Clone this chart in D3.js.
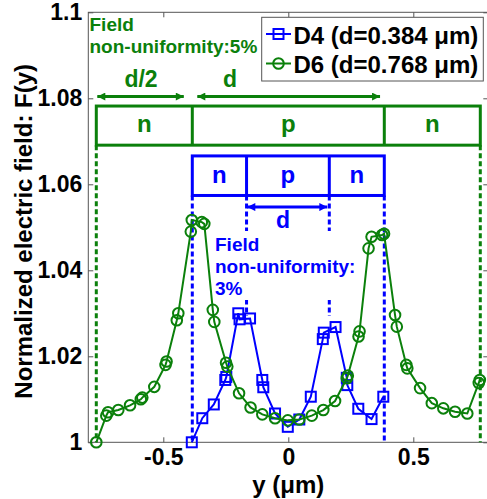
<!DOCTYPE html>
<html><head><meta charset="utf-8">
<script src="https://cdn.jsdelivr.net/npm/d3@7"></script>
<style>
body{margin:0;background:#fff}
svg{display:block}
text{font-family:"Liberation Sans",Arial,Helvetica,sans-serif;font-weight:bold}
</style>
</head><body><div id="c"></div>
<script>
// ---- data ----
const d4X=[-0.386,-0.344,-0.298,-0.252,-0.248,-0.200,-0.195,-0.153,-0.104,-0.100,-0.053,-0.002,0.044,0.090,0.138,0.142,0.189,0.234,0.236,0.280,0.333,0.380];
const d4Y=[1.0000,1.0056,1.0088,1.0145,1.0152,1.0300,1.0286,1.0288,1.0145,1.0128,1.0067,1.0036,1.0053,1.0106,1.0240,1.0255,1.0268,1.0150,1.0133,1.0078,1.0054,1.0106];
const d6X=[-0.768,-0.728,-0.721,-0.680,-0.633,-0.590,-0.584,-0.536,-0.491,-0.487,-0.446,-0.440,-0.390,-0.386,-0.346,-0.336,-0.302,-0.296,-0.249,-0.244,-0.197,-0.151,-0.104,-0.053,-0.002,0.044,0.094,0.140,0.187,0.234,0.238,0.281,0.285,0.321,0.333,0.375,0.383,0.427,0.434,0.472,0.476,0.527,0.574,0.620,0.667,0.716,0.762,0.766];
const d6Y=[1.0000,1.0062,1.0070,1.0075,1.0086,1.0100,1.0104,1.0129,1.0180,1.0188,1.0284,1.0300,1.0490,1.0517,1.0512,1.0508,1.0308,1.0280,1.0185,1.0176,1.0114,1.0081,1.0065,1.0056,1.0051,1.0053,1.0062,1.0075,1.0096,1.0149,1.0155,1.0246,1.0258,1.0451,1.0478,1.0482,1.0485,1.0296,1.0269,1.0180,1.0172,1.0126,1.0091,1.0079,1.0071,1.0067,1.0138,1.0145];
const seriesNames=["D4 (d=0.384 \u03bcm)","D6 (d=0.768 \u03bcm)"];
const xTicks=[-0.5,0,0.5];
const xTickLabels=["-0.5","0","0.5"];
const yTicks=[1,1.02,1.04,1.06,1.08,1.1];
const yTickLabels=["1","1.02","1.04","1.06","1.08","1.1"];
const xLabel="y (\u03bcm)";
const yLabel="Normalized electric field: F(y)";
// device structure sketches (data coordinates)
const d6Bounds=[-0.768,-0.384,0.384,0.768];
const d6Regions=["n","p","n"];
const d4Bounds=[-0.384,-0.167,0.164,0.384];
const d4Regions=["n","p","n"];
const d6Note=["Field","non-uniformity:5%"];
const d4Note=["Field","non-uniformity:","3%"];

// ---- layout ----
const W=487,H=499;
const green="#0b800b", blue="#0000ff", axisCol="#555";
const x=d3.scaleLinear().domain([-0.8,0.8]).range([88.3,488.3]);
const y=d3.scaleLinear().domain([1,1.1]).range([442.3,12.3]);

const svg=d3.select("#c").append("svg").attr("width",W).attr("height",H);
svg.append("rect").attr("width",W).attr("height",H).attr("fill","#fff");

const defs=svg.append("defs");
function arrowMarker(id,col){
  defs.append("marker").attr("id",id).attr("viewBox","0 0 10 10")
    .attr("refX",10).attr("refY",5).attr("markerUnits","userSpaceOnUse")
    .attr("markerWidth",9).attr("markerHeight",8).attr("orient","auto-start-reverse")
    .append("path").attr("d","M0,0L10,5L0,10z").attr("fill",col);
}
arrowMarker("ag",green); arrowMarker("ab",blue);

// frame
svg.append("rect").attr("x",x(-0.8)).attr("y",y(1.1)).attr("width",x(0.8)-x(-0.8)).attr("height",y(1)-y(1.1))
  .attr("fill","none").attr("stroke",axisCol).attr("stroke-width",1);

// axes
const gx=svg.append("g").attr("transform",`translate(0,${y(1)})`)
  .call(d3.axisBottom(x).tickValues(xTicks).tickSize(-5).tickPadding(6).tickFormat((d,i)=>xTickLabels[i]));
const gy=svg.append("g").attr("transform",`translate(${x(-0.8)},0)`)
  .call(d3.axisLeft(y).tickValues(yTicks).tickSize(-5).tickPadding(6).tickFormat((d,i)=>yTickLabels[i]));
const gt=svg.append("g").attr("transform",`translate(0,${y(1.1)})`)
  .call(d3.axisTop(x).tickValues(xTicks).tickSize(-5).tickFormat(""));
const gr=svg.append("g").attr("transform",`translate(${x(0.8)},0)`)
  .call(d3.axisRight(y).tickValues(yTicks).tickSize(-5).tickFormat(""));
[gx,gy,gt,gr].forEach(g=>{
  g.select(".domain").remove();
  g.selectAll(".tick line").attr("stroke",axisCol);
  g.selectAll("text").attr("font-size",23).attr("fill","#000")
    .style("font-family",'"Liberation Sans",Arial,sans-serif').style("font-weight","bold");
});

// axis labels
svg.append("text").attr("x",x(0)).attr("y",493).attr("text-anchor","middle").attr("font-size",24).text(xLabel);
svg.append("text").attr("transform",`translate(32,${(y(1)+y(1.1))/2+4}) rotate(-90)`).attr("text-anchor","middle")
  .attr("font-size",24).text(yLabel);

// ---- structure: D6 (green) ----
const g6=svg.append("g");
const b6Top=1.0782,b6Bot=1.0691;
g6.append("rect").attr("x",x(d6Bounds[0])).attr("y",y(b6Top)).attr("width",x(d6Bounds[3])-x(d6Bounds[0]))
  .attr("height",y(b6Bot)-y(b6Top)).attr("fill","none").attr("stroke",green).attr("stroke-width",3);
[d6Bounds[1],d6Bounds[2]].forEach(v=>g6.append("line").attr("x1",x(v)).attr("x2",x(v)).attr("y1",y(b6Top)).attr("y2",y(b6Bot))
  .attr("stroke",green).attr("stroke-width",3));
d6Regions.forEach((t,i)=>g6.append("text").attr("x",x((d6Bounds[i]+d6Bounds[i+1])/2)).attr("y",y(1.0722))
  .attr("text-anchor","middle").attr("font-size",24).attr("fill",green).text(t));
[d6Bounds[0],d6Bounds[3]].forEach(v=>g6.append("line").attr("x1",x(v)).attr("x2",x(v)).attr("y1",y(b6Bot)).attr("y2",y(1))
  .attr("stroke",green).attr("stroke-width",3).attr("stroke-dasharray","5,3"));
// arrows
g6.append("line").attr("x1",x(-0.764)).attr("x2",x(-0.418)).attr("y1",y(1.0804)).attr("y2",y(1.0804))
  .attr("stroke",green).attr("stroke-width",3).attr("marker-start","url(#ag)").attr("marker-end","url(#ag)");
g6.append("line").attr("x1",x(-0.364)).attr("x2",x(0.367)).attr("y1",y(1.0804)).attr("y2",y(1.0804))
  .attr("stroke",green).attr("stroke-width",3).attr("marker-start","url(#ag)").attr("marker-end","url(#ag)");
g6.append("text").attr("x",x(-0.589)).attr("y",y(1.0826)).attr("text-anchor","middle").attr("font-size",23).attr("fill",green).text("d/2");
g6.append("text").attr("x",x(-0.233)).attr("y",y(1.0826)).attr("text-anchor","middle").attr("font-size",23).attr("fill",green).text("d");

// ---- structure: D4 (blue) ----
const g4=svg.append("g");
const b4Top=1.0666,b4Bot=1.0574;
[d4Bounds[0],d4Bounds[3]].forEach(v=>g4.append("line").attr("x1",x(v)).attr("x2",x(v)).attr("y1",y(b4Bot)).attr("y2",y(1))
  .attr("stroke",blue).attr("stroke-width",3).attr("stroke-dasharray","5,3"));
[d4Bounds[1],d4Bounds[2]].forEach(v=>g4.append("line").attr("x1",x(v)).attr("x2",x(v)).attr("y1",y(b4Bot)).attr("y2",y(1.0294))
  .attr("stroke",blue).attr("stroke-width",3).attr("stroke-dasharray","5,3"));
g4.append("rect").attr("x",x(d4Bounds[0])).attr("y",y(b4Top)).attr("width",x(d4Bounds[3])-x(d4Bounds[0]))
  .attr("height",y(b4Bot)-y(b4Top)).attr("fill","none").attr("stroke",blue).attr("stroke-width",3);
[d4Bounds[1],d4Bounds[2]].forEach(v=>g4.append("line").attr("x1",x(v)).attr("x2",x(v)).attr("y1",y(b4Top)).attr("y2",y(b4Bot))
  .attr("stroke",blue).attr("stroke-width",3));
d4Regions.forEach((t,i)=>g4.append("text").attr("x",x((d4Bounds[i]+d4Bounds[i+1])/2)).attr("y",y(1.0602))
  .attr("text-anchor","middle").attr("font-size",24).attr("fill",blue).text(t));
g4.append("line").attr("x1",x(-0.164)).attr("x2",x(0.156)).attr("y1",y(1.0547)).attr("y2",y(1.0547))
  .attr("stroke",blue).attr("stroke-width",3).attr("marker-start","url(#ab)").attr("marker-end","url(#ab)");
g4.append("text").attr("x",x(-0.021)).attr("y",y(1.0498)).attr("text-anchor","middle").attr("font-size",23).attr("fill",blue).text("d");

// blue note with white background
svg.append("rect").attr("x",213).attr("y",231).attr("width",149).attr("height",69).attr("fill","#fff");
d4Note.forEach((t,i)=>svg.append("text").attr("x",215).attr("y",250.7+i*22.2).attr("font-size",19).attr("fill",blue).text(t));
d6Note.forEach((t,i)=>svg.append("text").attr("x",89.5).attr("y",31+i*22).attr("font-size",19).attr("fill",green).text(t));

// ---- data series ----
const line=d3.line().x(d=>x(d[0])).y(d=>y(d[1]));
const d4=d4X.map((v,i)=>[v,d4Y[i]]);
const d6=d6X.map((v,i)=>[v,d6Y[i]]);
svg.append("path").datum(d4).attr("d",line).attr("fill","none").attr("stroke",blue).attr("stroke-width",2);
svg.append("g").selectAll("rect").data(d4).join("rect")
  .attr("x",d=>x(d[0])-5).attr("y",d=>y(d[1])-5).attr("width",10).attr("height",10)
  .attr("fill","none").attr("stroke",blue).attr("stroke-width",2);
svg.append("path").datum(d6).attr("d",line).attr("fill","none").attr("stroke",green).attr("stroke-width",2);
svg.append("g").selectAll("circle").data(d6).join("circle")
  .attr("cx",d=>x(d[0])).attr("cy",d=>y(d[1])).attr("r",5.3)
  .attr("fill","none").attr("stroke",green).attr("stroke-width",2);

// ---- legend ----
const lg=svg.append("g");
lg.append("rect").attr("x",261.7).attr("y",17.3).attr("width",221.6).attr("height",63.7)
  .attr("fill","#fff").attr("stroke",axisCol).attr("stroke-width",1);
const legCols=[blue,green];
seriesNames.forEach((nm,i)=>{
  const cy=34+i*29.5;
  lg.append("line").attr("x1",266).attr("x2",291).attr("y1",cy).attr("y2",cy).attr("stroke",legCols[i]).attr("stroke-width",2);
  if(i===0) lg.append("rect").attr("x",278.5-5).attr("y",cy-5).attr("width",10).attr("height",10).attr("fill","none").attr("stroke",blue).attr("stroke-width",2);
  else lg.append("circle").attr("cx",278.5).attr("cy",cy).attr("r",5.3).attr("fill","none").attr("stroke",green).attr("stroke-width",2);
  lg.append("text").attr("x",293.5).attr("y",cy+9.5).attr("font-size",24).attr("fill","#000").text(nm);
});
</script>
</body></html>
